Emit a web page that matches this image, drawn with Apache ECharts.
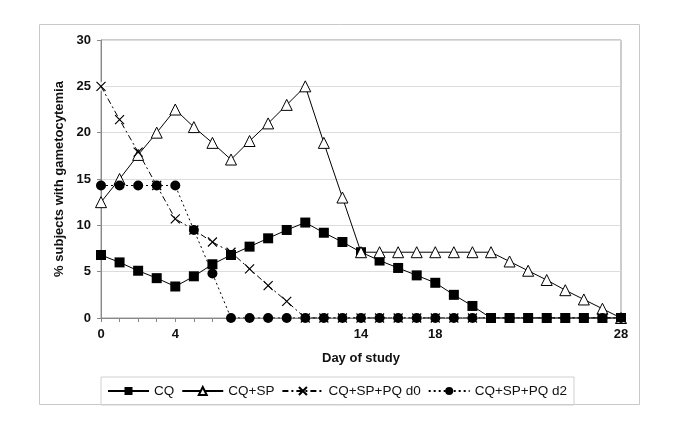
<!doctype html>
<html>
<head>
<meta charset="UTF-8">
<title>Gametocytemia</title>
<script src="https://cdn.jsdelivr.net/npm/echarts@6/dist/echarts.min.js"></script>
<style>
  html, body { margin: 0; padding: 0; background: #fff; }
  #chart { width: 685px; height: 433px; }
</style>
</head>
<body>
<div id="chart"></div>
<script>
// day of study
var days = [0, 1, 2, 3, 4, 5, 6, 7, 8, 9, 10, 11, 12, 13, 14, 15, 16, 17, 18, 19, 20, 21, 22, 23, 24, 25, 26, 27, 28];
var xLabels = [0, 4, 14, 18, 28];

// % subjects with gametocytemia
var cq = [6.8, 6.0, 5.1, 4.3, 3.4, 4.5, 5.8, 6.8, 7.7, 8.6, 9.5, 10.3, 9.2, 8.2, 7.1, 6.2, 5.4, 4.6, 3.8, 2.5, 1.3, 0, 0, 0, 0, 0, 0, 0, 0];
var cqsp = [12.5, 15.0, 17.6, 20.0, 22.5, 20.6, 18.9, 17.1, 19.1, 21.0, 23.0, 25.0, 18.9, 13.0, 7.1, 7.1, 7.1, 7.1, 7.1, 7.1, 7.1, 7.1, 6.1, 5.1, 4.1, 3.0, 2.0, 1.0, 0];
var pqD0 = [25.0, 21.4, 17.9, 14.3, 10.7, 9.5, 8.2, 7.1, 5.3, 3.5, 1.8, 0, 0, 0, 0, 0, 0, 0, 0, 0, 0, 0, 0, 0, 0, 0, 0, 0, 0];
var pqD2 = [14.3, 14.3, 14.3, 14.3, 14.3, 9.5, 4.8, 0, 0, 0, 0, 0, 0, 0, 0, 0, 0, 0, 0, 0, 0, 0, 0, 0, 0, 0, 0, 0, 0];

var names = ['CQ', 'CQ+SP', 'CQ+SP+PQ d0', 'CQ+SP+PQ d2'];

function pairs(vals) {
  return days.map(function (d, i) { return [d, vals[i]]; });
}

var font = 'Arial, "Liberation Sans", sans-serif';
var crossPath = 'path://M0,0L10,10M10,0L0,10';

var myChart = echarts.init(document.getElementById('chart'));
var option = {
  animation: false,
  textStyle: { fontFamily: font },
  graphic: [{
    type: 'rect',
    shape: { x: 39.5, y: 24.5, width: 600, height: 380 },
    style: { fill: 'none', stroke: '#c8c8c8', lineWidth: 1 },
    z: -1
  }],
  grid: {
    left: 101, right: 64, top: 40, bottom: 115,
    show: true, borderColor: '#999', borderWidth: 1
  },
  legend: {
    data: names,
    left: 101, top: 377,
    padding: [7, 7, 7, 6],
    itemGap: 7,
    itemWidth: 41,
    itemHeight: 10,
    borderColor: '#d0d0d0', borderWidth: 1,
    textStyle: { fontFamily: font, fontSize: 13.5, color: '#111' }
  },
  xAxis: {
    type: 'value',
    min: 0, max: 28, interval: 1,
    name: 'Day of study',
    nameLocation: 'middle',
    nameGap: 34,
    nameTextStyle: { fontFamily: font, fontWeight: 'bold', fontSize: 13, color: '#111' },
    axisLine: { lineStyle: { color: '#888' } },
    axisTick: { show: true, length: 4, lineStyle: { color: '#888' } },
    splitLine: { show: false },
    axisLabel: {
      margin: 10,
      fontWeight: 'bold', fontSize: 13, color: '#111',
      formatter: function (v) { return xLabels.indexOf(v) >= 0 ? String(v) : ''; }
    }
  },
  yAxis: {
    type: 'value',
    min: 0, max: 30, interval: 5,
    name: '% subjects with gametocytemia',
    nameLocation: 'middle',
    nameGap: 33,
    nameTextStyle: { fontFamily: font, fontWeight: 'bold', fontSize: 13, color: '#111' },
    axisLine: { show: true, lineStyle: { color: '#888' } },
    axisTick: { show: true, length: 4, lineStyle: { color: '#888' } },
    splitLine: { lineStyle: { color: '#dcdcdc' } },
    axisLabel: { margin: 10, fontWeight: 'bold', fontSize: 13, color: '#111' }
  },
  series: [
    {
      name: 'CQ', type: 'line',
      data: pairs(cq),
      symbol: 'rect', symbolSize: 10,
      lineStyle: { color: '#000', width: 1 },
      itemStyle: { color: '#000' }
    },
    {
      name: 'CQ+SP', type: 'line',
      data: pairs(cqsp),
      symbol: 'triangle', symbolSize: 11,
      lineStyle: { color: '#000', width: 1 },
      itemStyle: { color: '#fff', borderColor: '#000', borderWidth: 1 }
    },
    {
      // white box behind each cross, as in the original plot
      name: 'mask', type: 'scatter',
      data: pairs(pqD0),
      symbol: 'rect', symbolSize: 9,
      itemStyle: { color: '#fff' },
      silent: true
    },
    {
      name: 'CQ+SP+PQ d0', type: 'line',
      data: pairs(pqD0),
      symbol: crossPath, symbolSize: 9,
      lineStyle: { color: '#000', width: 1, type: [6, 3, 2, 3] },
      itemStyle: { color: '#fff', borderColor: '#000', borderWidth: 1.2 }
    },
    {
      name: 'CQ+SP+PQ d2', type: 'line',
      data: pairs(pqD2),
      symbol: 'circle', symbolSize: 10,
      lineStyle: { color: '#000', width: 1, type: [2, 3] },
      itemStyle: { color: '#000' }
    }
  ]
};
myChart.setOption(option);
</script>
</body>
</html>
